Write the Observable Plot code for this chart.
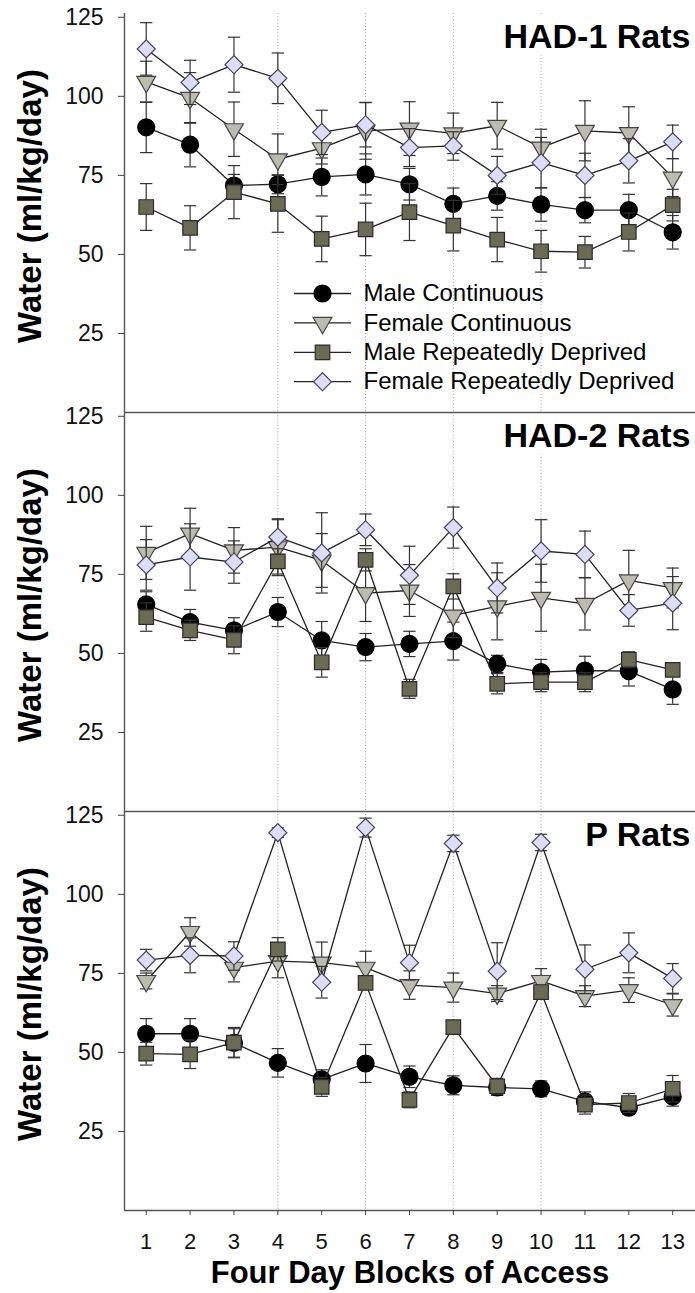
<!DOCTYPE html>
<html>
<head>
<meta charset="utf-8">
<script src="https://cdn.jsdelivr.net/npm/d3@7"></script>
<script src="https://cdn.jsdelivr.net/npm/@observablehq/plot@0.6"></script>
<style>
  body { margin: 0; background: #fff; }
  #chart svg { display: block; }
</style>
</head>
<body>
<div id="chart"></div>
<script>
// ---------- data ----------
const blocks = [1, 2, 3, 4, 5, 6, 7, 8, 9, 10, 11, 12, 13];
const strains = ["HAD-1", "HAD-2", "P"];
const panelTitles = ["HAD-1 Rats", "HAD-2 Rats", "P Rats"];
const seriesNames = ["Male Continuous", "Female Continuous", "Male Repeatedly Deprived", "Female Repeatedly Deprived"];
const yTicks = [25, 50, 75, 100, 125];
const gridBlocks = [4, 6, 8, 10];

// HAD-1 Rats
const had1MaleCont      = [90.2, 84.7, 71.8, 72.2, 74.5, 75.3, 72.2, 66.0, 68.5, 65.8, 64.0, 64.0, 57.0];
const had1MaleContErr   = [8.0, 7.0, 3.5, 3.0, 6.0, 6.5, 5.0, 5.0, 4.5, 5.3, 4.0, 5.0, 5.3];
const had1FemCont       = [104.6, 99.5, 89.6, 80.1, 83.6, 89.1, 89.8, 88.3, 90.7, 83.8, 89.1, 88.4, 74.3];
const had1FemContErr    = [6.5, 8.0, 8.6, 8.0, 5.0, 9.0, 8.5, 6.4, 7.4, 5.8, 9.5, 8.3, 6.0];
const had1MaleRD        = [65.0, 58.4, 69.7, 66.0, 54.9, 57.9, 63.4, 59.1, 54.7, 51.0, 50.7, 57.1, 65.6];
const had1MaleRDErr     = [7.4, 7.0, 8.4, 9.0, 7.2, 8.3, 9.0, 8.0, 7.0, 6.6, 5.0, 6.0, 5.0];
const had1FemRD         = [115.0, 104.4, 110.0, 105.7, 88.6, 91.0, 83.8, 84.3, 75.0, 79.0, 75.0, 79.6, 85.6];
const had1FemRDErr      = [8.3, 7.0, 8.7, 8.0, 7.0, 7.0, 6.0, 4.5, 6.0, 8.0, 7.0, 7.0, 5.3];

// HAD-2 Rats
const had2MaleCont      = [65.5, 59.9, 57.3, 63.1, 54.1, 52.0, 53.0, 53.9, 46.7, 44.1, 44.6, 44.4, 38.6];
const had2MaleContErr   = [4.0, 4.0, 4.0, 4.6, 6.0, 4.3, 4.0, 6.0, 2.7, 4.0, 4.5, 4.7, 4.7];
const had2FemCont       = [81.8, 87.9, 82.6, 83.6, 79.4, 69.1, 69.9, 62.0, 64.9, 67.6, 65.7, 73.1, 70.7];
const had2FemContErr    = [8.4, 8.0, 7.2, 9.0, 8.5, 9.0, 8.2, 7.0, 10.6, 10.6, 8.3, 9.5, 6.3];
const had2MaleRD        = [61.5, 57.3, 54.3, 79.1, 47.2, 79.6, 38.8, 71.2, 40.4, 40.9, 40.9, 48.0, 44.8];
const had2MaleRDErr     = [4.5, 3.2, 4.4, 4.0, 4.7, 3.5, 3.0, 4.0, 3.2, 3.0, 3.0, 2.5, 2.0];
const had2FemRD         = [78.0, 80.5, 78.9, 86.8, 81.8, 89.1, 74.7, 89.8, 70.7, 82.4, 81.3, 63.6, 65.9];
const had2FemRDErr      = [8.0, 10.5, 6.7, 5.5, 12.7, 5.0, 9.2, 6.5, 7.9, 9.9, 7.4, 5.0, 8.4];

// P Rats
const pMaleCont         = [55.9, 55.9, 53.0, 46.7, 41.5, 46.5, 42.3, 39.6, 38.9, 38.5, 34.5, 32.5, 36.0];
const pMaleContErr      = [4.8, 4.8, 4.5, 4.5, 3.0, 6.0, 3.4, 3.0, 2.5, 2.5, 3.0, 2.0, 3.0];
const pFemCont          = [72.6, 88.1, 76.8, 78.9, 78.4, 76.8, 71.3, 70.5, 68.6, 72.6, 67.8, 69.7, 65.0];
const pFemContErr       = [2.5, 4.5, 4.5, 5.3, 6.5, 5.2, 4.5, 4.6, 2.5, 3.9, 3.3, 3.9, 3.5];
const pMaleRD           = [49.6, 49.4, 53.1, 82.6, 39.1, 72.0, 35.0, 58.0, 39.3, 69.1, 33.5, 34.0, 38.5];
const pMaleRDErr        = [3.6, 4.5, 4.8, 3.7, 3.0, 2.0, 2.5, 2.0, 2.5, 1.5, 3.0, 3.0, 4.2];
const pFemRD            = [79.2, 80.7, 80.5, 119.5, 72.2, 121.1, 78.4, 116.1, 75.7, 116.4, 76.3, 81.5, 73.4];
const pFemRDErr         = [3.4, 5.5, 4.5, 1.5, 5.0, 3.0, 5.5, 2.6, 9.0, 2.6, 7.7, 6.3, 4.7];

const values = {
  "HAD-1": [had1MaleCont, had1FemCont, had1MaleRD, had1FemRD],
  "HAD-2": [had2MaleCont, had2FemCont, had2MaleRD, had2FemRD],
  "P":     [pMaleCont, pFemCont, pMaleRD, pFemRD]
};
const errors = {
  "HAD-1": [had1MaleContErr, had1FemContErr, had1MaleRDErr, had1FemRDErr],
  "HAD-2": [had2MaleContErr, had2FemContErr, had2MaleRDErr, had2FemRDErr],
  "P":     [pMaleContErr, pFemContErr, pMaleRDErr, pFemRDErr]
};

// ---------- styles ----------
const seriesStyle = [
  {symbol: "circle",   r: 8.5, fill: "#000000", stroke: "#000000", rotate: 0},
  {symbol: "triangle", r: 7.0, fill: "#bbbbaf", stroke: "#444444", rotate: 180},
  {symbol: "square",   r: 8.2, fill: "#6b6b55", stroke: "#2a2a2a", rotate: 0},
  {symbol: "square",   r: 7.2, fill: "#dcdcfc", stroke: "#444455", rotate: 45}
];
const FONT = "Liberation Sans, Arial, Helvetica, sans-serif";
const xDomain = [0.505, 13.52];
const capHalf = 0.14;

// ---------- rows ----------
const rowsBySeries = seriesNames.map((name, k) => {
  const out = [];
  strains.forEach(s => {
    blocks.forEach((b, i) => {
      out.push({strain: s, series: name, block: b, value: values[s][k][i], err: errors[s][k][i]});
    });
  });
  return out;
});

const lineSymbol = {
  draw(context) { context.moveTo(-28.5, 0); context.lineTo(28.5, 0); }
};

const marks = [];
// dotted vertical guides
marks.push(Plot.ruleX(gridBlocks, {stroke: "#9a9a9a", strokeWidth: 1, strokeDasharray: "1,2.2"}));
// frame lines
marks.push(Plot.ruleY([0], {stroke: "#555", strokeWidth: 1.6}));
marks.push(Plot.ruleX([xDomain[0]], {stroke: "#555", strokeWidth: 1.4}));
// axes
marks.push(Plot.axisY({ticks: yTicks, tickSize: 6, tickPadding: 15, fontSize: 23, label: null, stroke: "#444", fill: "#111"}));
marks.push(Plot.axisX({ticks: blocks, tickSize: 5, tickPadding: 18, fontSize: 22, label: null, stroke: "#444", fill: "#111"}));

// series
rowsBySeries.forEach((rows, k) => {
  const st = seriesStyle[k];
  marks.push(Plot.ruleX(rows, {x: "block", y1: d => d.value - d.err, y2: d => d.value + d.err, fy: "strain", stroke: "#333", strokeWidth: 1.2}));
  marks.push(Plot.link(rows, {x1: d => d.block - capHalf, x2: d => d.block + capHalf, y1: d => d.value + d.err, y2: d => d.value + d.err, fy: "strain", stroke: "#333", strokeWidth: 1.2}));
  marks.push(Plot.link(rows, {x1: d => d.block - capHalf, x2: d => d.block + capHalf, y1: d => d.value - d.err, y2: d => d.value - d.err, fy: "strain", stroke: "#333", strokeWidth: 1.2}));
  marks.push(Plot.line(rows, {x: "block", y: "value", fy: "strain", stroke: "#222", strokeWidth: 1.3}));
  marks.push(Plot.dot(rows, {x: "block", y: "value", fy: "strain", symbol: st.symbol, r: st.r, fill: st.fill, stroke: st.stroke, strokeWidth: 1.2, rotate: st.rotate}));
});

// panel titles
const titleRows = strains.map((s, i) => ({strain: s, title: panelTitles[i]}));
marks.push(Plot.text(titleRows, {fy: "strain", text: "title", frameAnchor: "top-right", lineAnchor: "top", textAnchor: "end",
  dx: -5, dy: 10, fontSize: 34, fontWeight: "bold", fontFamily: FONT, fill: "#000", stroke: "white", strokeWidth: 18, paintOrder: "stroke"}));

// y axis labels (one per panel)
marks.push(Plot.text(titleRows, {fy: "strain", text: () => "Water (ml/kg/day)", frameAnchor: "left", rotate: -90,
  textAnchor: "middle", lineAnchor: "middle",
  dx: -94, dy: -7, fontSize: 33, fontWeight: "bold", fontFamily: FONT, fill: "#000"}));

// legend inside HAD-1 panel
const legendRows = [{strain: strains[0]}];
seriesNames.forEach((name, k) => {
  const st = seriesStyle[k];
  const dy = 280 + k * 29.4;
  marks.push(Plot.dot(legendRows, {fy: "strain", frameAnchor: "top-left", dx: 198, dy, symbol: lineSymbol, r: 1, fill: "none", stroke: "#222", strokeWidth: 1.3}));
  marks.push(Plot.dot(legendRows, {fy: "strain", frameAnchor: "top-left", dx: 198, dy, symbol: st.symbol, r: st.r, fill: st.fill, stroke: st.stroke, strokeWidth: 1.2, rotate: st.rotate}));
  marks.push(Plot.text(legendRows, {fy: "strain", frameAnchor: "top-left", dx: 239, dy, text: () => name, textAnchor: "start", lineAnchor: "middle", fontSize: 24, fontFamily: FONT, fill: "#000"}));
});

// x axis title (bottom panel only)
marks.push(Plot.text([{strain: strains[2]}], {fy: "strain", text: () => "Four Day Blocks of Access", frameAnchor: "bottom", lineAnchor: "bottom",
  textAnchor: "middle", dy: 72, fontSize: 31, fontWeight: "bold", fontFamily: FONT, fill: "#000"}));

const chart = Plot.plot({
  width: 695,
  height: 1293,
  marginTop: 12,
  marginBottom: 82,
  marginLeft: 124,
  marginRight: 0,
  style: {fontFamily: FONT, background: "#fff", overflow: "visible"},
  x: {domain: xDomain},
  y: {domain: [0, 126.2]},
  fy: {domain: strains, axis: null, padding: 0},
  marks
});
document.getElementById("chart").appendChild(chart);
</script>
</body>
</html>
